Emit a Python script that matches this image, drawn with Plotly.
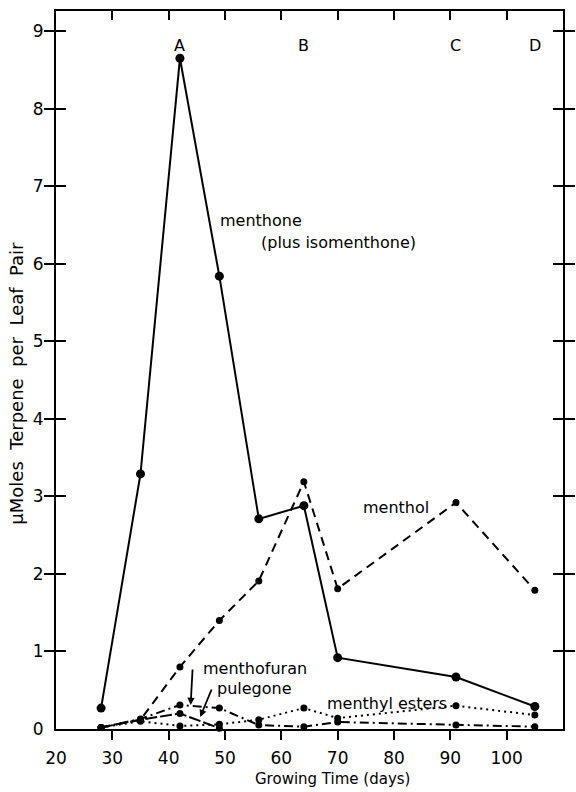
import plotly.graph_objects as go

# ---- data ----
days = [28, 35, 42, 49, 56, 64, 70, 91, 105]
menthone = [0.27, 3.29, 8.65, 5.84, 2.71, 2.88, 0.92, 0.67, 0.29]
menthol = [0.02, 0.12, 0.80, 1.40, 1.91, 3.19, 1.81, 2.92, 1.79]
menthyl_esters = [0.02, 0.10, 0.04, 0.06, 0.12, 0.27, 0.14, 0.30, 0.18]
menthofuran = [0.02, 0.13, 0.31, 0.27, 0.05, 0.03, 0.09, 0.05, 0.03]
pulegone_days = [28, 35, 42, 49]
pulegone = [0.02, 0.12, 0.20, 0.01]

x_ticks = [20, 30, 40, 50, 60, 70, 80, 90, 100, 110]
x_inner_ticks = [30, 40, 50, 60, 70, 80, 90, 100]
y_ticks = [0, 1, 2, 3, 4, 5, 6, 7, 8, 9]
harvest_days = [42, 64, 91, 105]
harvest_labels = ["A", "B", "C", "D"]

FONT = "DejaVu Sans"
BLACK = "black"
NB = "\u00a0\u00a0"

fig = go.Figure()

def add_series(x, y, dash, msize, width=2):
    fig.add_trace(go.Scatter(
        x=x, y=y, mode="lines+markers",
        line=dict(color=BLACK, width=width, dash=dash),
        marker=dict(color=BLACK, size=msize),
        showlegend=False, hoverinfo="skip", cliponaxis=False))

add_series(days, menthyl_esters, "2px,4px", 7)
add_series(days, menthofuran, "9px,4px,2px,4px", 7)
add_series(pulegone_days, pulegone, "12px,3px", 7)
add_series(days, menthol, "9px,6px", 7)
add_series(days, menthone, "solid", 9)

# empty traces so the overlay tick axes are drawn
fig.add_trace(go.Scatter(x=[], y=[], xaxis="x2", yaxis="y", showlegend=False))
fig.add_trace(go.Scatter(x=[], y=[], xaxis="x3", yaxis="y", showlegend=False))

XR = [20, 110]
YR = [0, 9.26]

fig.update_layout(
    width=576, height=792,
    margin=dict(l=56, r=13, t=11, b=63),
    paper_bgcolor="white", plot_bgcolor="white",
    font=dict(family=FONT, color=BLACK),
    xaxis=dict(range=XR, tickvals=x_ticks, ticks="", showline=True,
               linecolor=BLACK, linewidth=2, mirror=True, showgrid=False,
               zeroline=False, tickfont=dict(size=17, family=FONT),
               ticklabelstandoff=13, automargin=False),
    xaxis2=dict(range=XR, overlaying="x", side="bottom", anchor="y",
                tickvals=x_inner_ticks, ticks="outside", ticklen=10,
                tickwidth=2, tickcolor=BLACK, showticklabels=False,
                showline=False, showgrid=False, zeroline=False),
    xaxis3=dict(range=XR, overlaying="x", side="top", anchor="y",
                tickvals=x_inner_ticks, ticks="inside", ticklen=9,
                tickwidth=2, tickcolor=BLACK, showticklabels=False,
                showline=False, showgrid=False, zeroline=False),
    yaxis=dict(range=YR, tickvals=y_ticks, ticks="inside", ticklen=10,
               tickwidth=2, tickcolor=BLACK, mirror="allticks",
               showline=True, linecolor=BLACK, linewidth=2, showgrid=False,
               zeroline=False, tickfont=dict(size=17, family=FONT),
               ticklabelstandoff=7, automargin=False),
)

ann = []
for d, lab in zip(harvest_days, harvest_labels):
    ann.append(dict(x=d, y=8.82, text=lab, showarrow=False,
                    font=dict(size=16, family=FONT), xanchor="center",
                    yanchor="middle"))

labels = [
    ("menthone", 48.7, 6.56, "left"),
    ("(plus isomenthone)", 56.0, 6.28, "left"),
    ("menthol", 80.4, 2.86, "center"),
    ("menthofuran", 45.7, 0.78, "left"),
    ("pulegone", 48.2, 0.52, "left"),
    ("menthyl esters", 78.8, 0.33, "center"),
]
for t, x, y, xa in labels:
    ann.append(dict(x=x, y=y, text=t, showarrow=False, xanchor=xa,
                    yanchor="middle", font=dict(size=16, family=FONT)))

# pointer arrows
ann.append(dict(x=43.9, y=0.31, ax=2, ay=-37, text="", showarrow=True,
                arrowhead=2, arrowsize=0.8, arrowwidth=1.8, arrowcolor=BLACK))
ann.append(dict(x=45.6, y=0.155, ax=12, ay=-29, text="", showarrow=True,
                arrowhead=2, arrowsize=0.8, arrowwidth=1.8, arrowcolor=BLACK))

# axis titles
ann.append(dict(x=0, y=0.481, xref="paper", yref="paper", xshift=-39,
                text=NB.join(["µMoles", "Terpene", "per", "Leaf", "Pair"]),
                textangle=-90, showarrow=False,
                font=dict(size=18, family=FONT),
                xanchor="center", yanchor="middle"))
ann.append(dict(x=69, y=0, yref="paper", yshift=-50,
                text="Growing Time (days)", showarrow=False,
                font=dict(size=15, family=FONT), xanchor="center",
                yanchor="middle"))

fig.update_layout(annotations=ann)

fig.write_html("out.html")
